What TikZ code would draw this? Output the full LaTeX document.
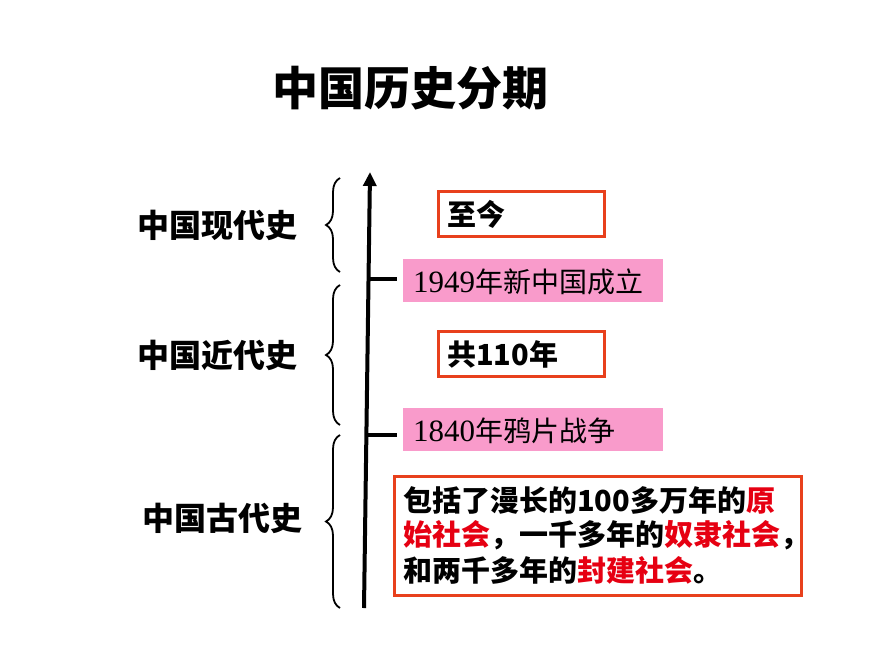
\documentclass[tikz,border=0pt]{standalone}
\usepackage{fontspec}
\setmainfont{Noto Sans CJK SC}
\newfontfamily\serifd{Liberation Serif}
\usetikzlibrary{decorations.pathreplacing,arrows.meta}
\definecolor{bord}{HTML}{E8401C}
\definecolor{pinkf}{HTML}{F99BCB}
\definecolor{redt}{HTML}{E60012}
\begin{document}
\begin{tikzpicture}[x=1pt,y=-1pt,
  rbox/.style={draw=bord,line width=2.5pt,fill=white,anchor=north west,inner sep=0pt},
  pbox/.style={fill=pinkf,anchor=north west,inner sep=0pt},
  txt/.style={anchor=west,font=\fontsize{29}{32}\selectfont\bfseries,inner sep=0pt},
  ptxt/.style={anchor=west,font=\fontsize{28}{32}\selectfont,inner sep=0pt},
  lab/.style={font=\fontsize{32}{36}\selectfont\bfseries},
  br/.style={decorate,decoration={brace,amplitude=14pt},line width=1.8pt}]
\useasboundingbox (0,0) rectangle (870,653);
\node[font=\fontsize{46}{50}\selectfont\bfseries] (title) at (410,88) {中国历史分期};
\coordinate (ab) at (364,608);
\coordinate (at) at (370,172);
\draw[line width=4pt,-{Triangle[length=14pt,width=13pt]}] (ab) -- (at);
\coordinate (t1) at (369,279);
\coordinate (t2) at (367,435);
\coordinate (t1e) at (397,279);
\coordinate (t2e) at (397,435);
\draw[line width=4pt] (t1) -- (t1e);
\draw[line width=4pt] (t2) -- (t2e);
\node[rbox,minimum width=166pt,minimum height=45pt] (b1) at (437,190) {};
\node[txt] at ([xshift=10pt,yshift=-1pt]b1.west) {至今};
\node[pbox,minimum width=260pt,minimum height=43pt] (p1) at (403,259) {};
\node[ptxt] at ([xshift=10pt,yshift=-1pt]p1.west) {{\serifd\fontsize{31}{32}\selectfont 1949}年新中国成立};
\node[rbox,minimum width=166pt,minimum height=45pt] (b2) at (437,330) {};
\node[txt] at ([xshift=10pt,yshift=-1pt]b2.west) {共110年};
\node[pbox,minimum width=260pt,minimum height=43pt] (p2) at (403,408) {};
\node[ptxt] at ([xshift=10pt,yshift=-1pt]p2.west) {{\serifd\fontsize{31}{32}\selectfont 1840}年鸦片战争};
\node[rbox,minimum width=407pt,minimum height=119pt] (b3) at (393,475) {};
\node[txt] at (403,500) {包括了漫长的100多万年的\textcolor{redt}{原}};
\node[txt] at (403,535) {\textcolor{redt}{始社会}，一千多年的\textcolor{redt}{奴隶社会}，};
\node[txt] at (403,570) {和两千多年的\textcolor{redt}{封建社会}。};
\coordinate (c1a) at (340,272); \coordinate (c1b) at (340,178);
\coordinate (c2a) at (340,425); \coordinate (c2b) at (340,285);
\coordinate (c3a) at (340,608); \coordinate (c3b) at (340,435);
\draw[br] (c1a) -- (c1b);
\draw[br] (c2a) -- (c2b);
\draw[br] (c3a) -- (c3b);
\node[lab] (l1) at (217,225) {中国现代史};
\node[lab] (l2) at (217,355) {中国近代史};
\node[lab] (l3) at (222,518) {中国古代史};
\end{tikzpicture}
\end{document}
